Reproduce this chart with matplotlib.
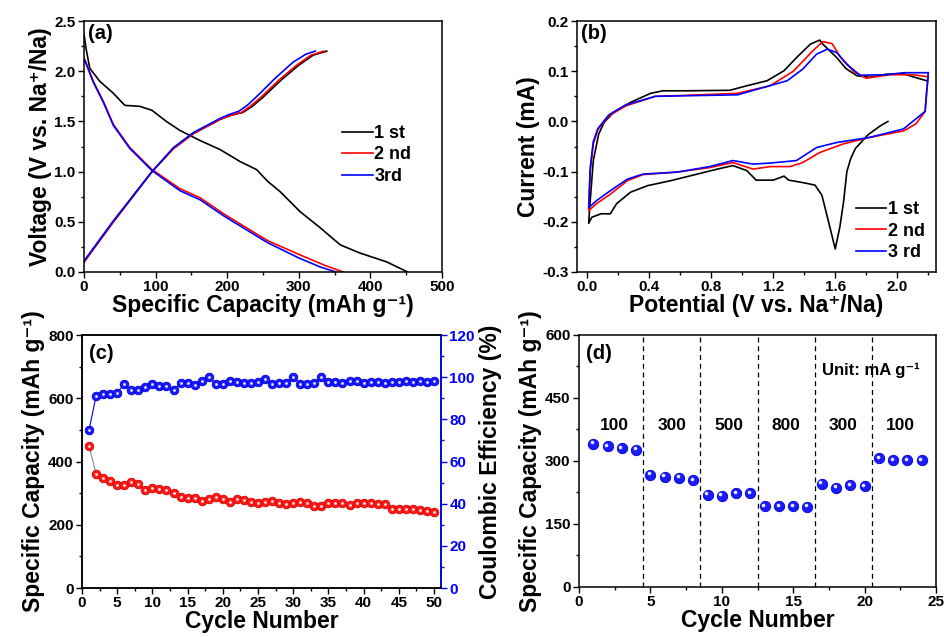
import matplotlib
matplotlib.use('Agg')
import matplotlib.pyplot as plt
import numpy as np
from matplotlib.ticker import MultipleLocator, FormatStrFormatter
from matplotlib.transforms import offset_copy

plt.rcParams['font.family'] = ['Liberation Sans', 'DejaVu Sans']
plt.rcParams['font.weight'] = 'bold'
plt.rcParams['axes.labelweight'] = 'bold'
plt.rcParams['axes.linewidth'] = 1.1

# ---- (a) charge/discharge profiles ----
cap_dis_1 = [0, 3, 8, 22, 41, 57, 78, 95, 115, 134, 162, 190, 218, 241, 257, 274, 302, 330, 358, 385, 423, 452]
volt_dis_1 = [2.37, 2.22, 2.03, 1.90, 1.78, 1.66, 1.65, 1.61, 1.50, 1.41, 1.31, 1.22, 1.10, 1.02, 0.90, 0.80, 0.60, 0.44, 0.27, 0.19, 0.10, 0.0]
cap_dis_2 = [0, 1.5, 13, 27, 41, 64, 95, 134, 162, 195, 227, 257, 302, 335, 362]
volt_dis_2 = [2.13, 2.11, 1.90, 1.70, 1.47, 1.24, 1.02, 0.83, 0.74, 0.58, 0.44, 0.31, 0.17, 0.07, 0.0]
cap_dis_3 = [0, 1.5, 13, 27, 41, 64, 95, 134, 162, 195, 227, 257, 300, 330, 352]
volt_dis_3 = [2.12, 2.10, 1.89, 1.69, 1.46, 1.23, 1.01, 0.81, 0.72, 0.56, 0.42, 0.29, 0.14, 0.05, 0.0]

cap_chg_1 = [0, 41, 95, 125, 153, 190, 205, 222, 235, 250, 275, 300, 320, 339]
volt_chg_1 = [0.10, 0.50, 1.00, 1.23, 1.38, 1.52, 1.56, 1.59, 1.65, 1.74, 1.91, 2.06, 2.16, 2.20]
cap_chg_2 = [0, 41, 95, 125, 153, 190, 205, 220, 232, 247, 272, 297, 317, 335]
volt_chg_2 = [0.10, 0.50, 1.00, 1.23, 1.38, 1.52, 1.56, 1.59, 1.65, 1.74, 1.91, 2.06, 2.16, 2.20]
cap_chg_3 = [0, 41, 95, 125, 153, 190, 203, 216, 228, 243, 267, 292, 310, 323]
volt_chg_3 = [0.11, 0.51, 1.00, 1.24, 1.39, 1.53, 1.57, 1.60, 1.66, 1.76, 1.93, 2.09, 2.17, 2.20]

# ---- (b) CV curves ----
cv_v_1 = [1.94, 1.89, 1.81, 1.73, 1.70, 1.675, 1.654, 1.63, 1.60, 1.557, 1.514, 1.47, 1.41, 1.30, 1.27, 1.20, 1.09, 1.03, 0.94,
          0.84, 0.71, 0.54, 0.39, 0.28, 0.19, 0.15, 0.09, 0.03, 0.01, 0.02, 0.04, 0.075, 0.11, 0.17, 0.28, 0.41, 0.49,
          0.64, 0.92, 1.03, 1.16, 1.27, 1.35, 1.44, 1.50, 1.52, 1.61, 1.67, 1.74, 1.82, 1.93, 2.04, 2.10, 2.19]
cv_i_1 = [0.0, -0.009, -0.027, -0.054, -0.074, -0.100, -0.160, -0.21, -0.254, -0.20, -0.147, -0.127, -0.123, -0.117,
          -0.109, -0.117, -0.117, -0.098, -0.088, -0.095, -0.105, -0.118, -0.128, -0.141, -0.164, -0.184, -0.184,
          -0.191, -0.203, -0.158, -0.078, -0.025, -0.002, 0.018, 0.038, 0.056, 0.061, 0.061, 0.062, 0.071, 0.081,
          0.101, 0.127, 0.154, 0.162, 0.154, 0.127, 0.105, 0.091, 0.088, 0.094, 0.095, 0.089, 0.081]
cv_v_2 = [2.20, 2.19, 2.18, 2.12, 2.04, 1.82, 1.65, 1.50, 1.39, 1.31, 1.18, 1.07, 0.94, 0.79, 0.58, 0.36, 0.26, 0.15,
          0.06, 0.01, 0.02, 0.04, 0.07, 0.14, 0.25, 0.44, 0.64, 0.97, 1.18, 1.33, 1.46, 1.52, 1.58, 1.63, 1.72, 1.80,
          1.95, 2.10, 2.20]
cv_i_2 = [0.088, 0.06, 0.02, -0.005, -0.019, -0.032, -0.045, -0.062, -0.082, -0.090, -0.090, -0.095, -0.082, -0.092,
          -0.101, -0.106, -0.118, -0.145, -0.164, -0.178, -0.10, -0.045, -0.016, 0.011, 0.031, 0.050, 0.052, 0.056,
          0.071, 0.10, 0.142, 0.159, 0.155, 0.13, 0.099, 0.086, 0.093, 0.093, 0.089]
cv_v_3 = [2.20, 2.19, 2.18, 2.04, 1.82, 1.61, 1.48, 1.35, 1.18, 1.07, 0.94, 0.79, 0.58, 0.36, 0.26, 0.15, 0.06, 0.01,
          0.02, 0.04, 0.07, 0.14, 0.25, 0.44, 0.97, 1.29, 1.39, 1.48, 1.55, 1.61, 1.67, 1.76, 1.93, 2.04, 2.20]
cv_i_3 = [0.097, 0.06, 0.02, -0.015, -0.032, -0.042, -0.052, -0.078, -0.083, -0.085, -0.078, -0.090, -0.101, -0.105,
          -0.115, -0.138, -0.158, -0.172, -0.093, -0.040, -0.014, 0.013, 0.033, 0.050, 0.053, 0.081, 0.104, 0.134,
          0.144, 0.137, 0.115, 0.092, 0.093, 0.097, 0.097]

# ---- (c) cycling ----
cycles_c = list(range(1, 51))
capacity_c = [450, 360, 347, 338, 326, 326, 336, 329, 310, 315, 313, 310, 302, 289, 286, 284, 275, 283, 287, 281,
              272, 281, 279, 272, 270, 272, 274, 270, 266, 268, 272, 268, 260, 260, 270, 270, 268, 264, 270, 270,
              268, 266, 266, 251, 249, 249, 249, 247, 245, 241]
efficiency_c = [75.0, 91.2, 92.3, 92.3, 92.7, 96.8, 93.9, 93.9, 95.2, 96.8, 96.0, 96.0, 93.9, 97.1, 97.4, 96.3, 98.4,
                100.2, 96.8, 96.8, 98.4, 97.9, 97.1, 97.1, 97.9, 99.0, 96.8, 97.1, 97.4, 99.9, 96.8, 96.8, 97.1,
                100.2, 97.9, 97.6, 97.1, 98.4, 98.4, 97.1, 97.6, 97.9, 97.1, 97.6, 97.9, 98.4, 97.6, 98.4, 97.6, 98.4]

# ---- (d) rate capability ----
cycles_d = list(range(1, 25))
capacity_d = [341, 335, 330, 327, 267, 263, 260, 255, 220, 217, 223, 223, 192, 192, 193, 191, 246, 236, 243, 240,
              306, 302, 302, 302]
rate_labels = ['100', '300', '500', '800', '300', '100']
rate_bounds = [4.5, 8.5, 12.5, 16.5, 20.5]

fig = plt.figure(figsize=(9.45, 6.37), dpi=100)
ax_a = fig.add_axes([0.0889, 0.573, 0.3788, 0.394])
ax_b = fig.add_axes([0.6106, 0.573, 0.3799, 0.394])
ax_c = fig.add_axes([0.0868, 0.0769, 0.3799, 0.397])
ax_d = fig.add_axes([0.6127, 0.0785, 0.3778, 0.3956])

tick_font = 11
label_font = 16.5
panel_font = 14.5
legend_font = 13


def style(ax):
    ax.tick_params(which='both', direction='out', top=False, right=False, labelsize=tick_font, width=1.0, pad=2)
    ax.tick_params(which='major', length=4)
    ax.tick_params(which='minor', length=2.5)
    for lab in ax.get_xticklabels() + ax.get_yticklabels():
        lab.set_fontweight('bold')


# (a)
lw = 1.2
ax_a.plot(cap_dis_1, volt_dis_1, color='black', lw=lw, label='1 st')
ax_a.plot(cap_chg_1, volt_chg_1, color='black', lw=lw)
ax_a.plot(cap_dis_2, volt_dis_2, color='red', lw=lw, label='2 nd')
ax_a.plot(cap_chg_2, volt_chg_2, color='red', lw=lw)
ax_a.plot(cap_dis_3, volt_dis_3, color='blue', lw=lw, label='3rd')
ax_a.plot(cap_chg_3, volt_chg_3, color='blue', lw=lw)
ax_a.set_xlim(0, 500)
ax_a.set_ylim(0, 2.5)
ax_a.xaxis.set_major_locator(MultipleLocator(100))
ax_a.xaxis.set_minor_locator(MultipleLocator(50))
ax_a.yaxis.set_major_locator(MultipleLocator(0.5))
ax_a.yaxis.set_minor_locator(MultipleLocator(0.25))
ax_a.yaxis.set_major_formatter(FormatStrFormatter('%.1f'))
ax_a.set_xlabel('Specific Capacity (mAh g\u207b\u00b9)', fontsize=label_font, labelpad=0)
ax_a.set_ylabel('Voltage (V vs. Na\u207a/Na)', fontsize=label_font, labelpad=2)
ax_a.text(0.01, 0.99, '(a)', transform=ax_a.transAxes, fontsize=panel_font, va='top', ha='left')
ax_a.legend(loc='upper left', bbox_to_anchor=(0.70, 0.615), frameon=False, fontsize=legend_font,
            handlelength=1.7, handletextpad=0.1, labelspacing=0.25, borderaxespad=0)
style(ax_a)

# (b)
ax_b.plot(cv_v_1, cv_i_1, color='black', lw=lw, label='1 st')
ax_b.plot(cv_v_2, cv_i_2, color='red', lw=lw, label='2 nd')
ax_b.plot(cv_v_3, cv_i_3, color='blue', lw=lw, label='3 rd')
ax_b.set_xlim(-0.065, 2.25)
ax_b.set_ylim(-0.3, 0.2)
ax_b.xaxis.set_major_locator(MultipleLocator(0.4))
ax_b.xaxis.set_minor_locator(MultipleLocator(0.2))
ax_b.yaxis.set_major_locator(MultipleLocator(0.1))
ax_b.yaxis.set_minor_locator(MultipleLocator(0.05))
ax_b.xaxis.set_major_formatter(FormatStrFormatter('%.1f'))
ax_b.yaxis.set_major_formatter(FormatStrFormatter('%.1f'))
ax_b.set_xlabel('Potential (V vs. Na\u207a/Na)', fontsize=label_font, labelpad=0)
ax_b.set_ylabel('Current (mA)', fontsize=label_font, labelpad=2)
ax_b.text(0.01, 0.99, '(b)', transform=ax_b.transAxes, fontsize=panel_font, va='top', ha='left')
ax_b.legend(loc='lower right', bbox_to_anchor=(1.0, 0.0), frameon=False, fontsize=legend_font,
            handlelength=1.7, handletextpad=0.1, labelspacing=0.25, borderaxespad=0.2)
style(ax_b)


def balls(ax, x, y, color, edge, size, dx=0.0, dy=0.0, hl=2.0):
    ax.plot(x, y, 'o', color=color, ms=size, mec=edge, mew=0.6, zorder=3)
    tr = offset_copy(ax.transData, fig=fig, x=dx, y=dy, units='points')
    ax.plot(x, y, 'o', color='white', ms=hl, mew=0, alpha=0.9, transform=tr, zorder=4)


# (c)
ax_c2 = ax_c.twinx()
ax_c.plot(cycles_c, capacity_c, color='#888888', lw=0.8, zorder=2)
balls(ax_c, cycles_c, capacity_c, '#ff1a1a', '#dd0000', 6.2)
ax_c2.plot(cycles_c, efficiency_c, color='blue', lw=0.8, zorder=2)
balls(ax_c2, cycles_c, efficiency_c, '#1a1aff', '#0000dd', 6.2)
ax_c.set_xlim(0, 51)
ax_c.set_ylim(0, 800)
ax_c2.set_ylim(0, 120)
ax_c.xaxis.set_major_locator(MultipleLocator(5))
ax_c.xaxis.set_minor_locator(MultipleLocator(2.5))
ax_c.yaxis.set_major_locator(MultipleLocator(200))
ax_c.yaxis.set_minor_locator(MultipleLocator(100))
ax_c2.yaxis.set_major_locator(MultipleLocator(20))
ax_c2.yaxis.set_minor_locator(MultipleLocator(10))
ax_c.set_xlabel('Cycle Number', fontsize=label_font, labelpad=0)
ax_c.set_ylabel('Specific Capacity (mAh g\u207b\u00b9)', fontsize=label_font, labelpad=2)
ax_c2.set_ylabel('Coulombic Efficiency (%)', fontsize=label_font, labelpad=3)
ax_c.text(0.02, 0.965, '(c)', transform=ax_c.transAxes, fontsize=panel_font, va='top', ha='left')
style(ax_c)
ax_c2.tick_params(which='both', direction='out', right=True, colors='blue', labelsize=tick_font, width=1.0, pad=2)
ax_c2.tick_params(which='major', length=4)
ax_c2.tick_params(which='minor', length=2.5)
for lab in ax_c2.get_yticklabels():
    lab.set_fontweight('bold')
ax_c2.spines['right'].set_color('blue')

# (d)
for b in rate_bounds:
    ax_d.axvline(b, color='black', ls=(0, (4, 3)), lw=0.9)
balls(ax_d, cycles_d, capacity_d, '#1a1aff', '#0000cc', 7.5, dx=-1.0, dy=1.0, hl=2.6)
edges = [0.5] + rate_bounds + [24.5]
for i, lab in enumerate(rate_labels):
    ax_d.text((edges[i] + edges[i + 1]) / 2, 385, lab, ha='center', va='center', fontsize=12.5)
ax_d.text(17.05, 515, 'Unit: mA g\u207b\u00b9', ha='left', va='center', fontsize=12)
ax_d.set_xlim(0, 25)
ax_d.set_ylim(0, 600)
ax_d.xaxis.set_major_locator(MultipleLocator(5))
ax_d.xaxis.set_minor_locator(MultipleLocator(2.5))
ax_d.yaxis.set_major_locator(MultipleLocator(150))
ax_d.yaxis.set_minor_locator(MultipleLocator(75))
ax_d.set_xlabel('Cycle Number', fontsize=label_font, labelpad=0)
ax_d.set_ylabel('Specific Capacity (mAh g\u207b\u00b9)', fontsize=label_font, labelpad=2)
ax_d.text(0.02, 0.965, '(d)', transform=ax_d.transAxes, fontsize=panel_font, va='top', ha='left')
style(ax_d)

fig.savefig('out.png', dpi=100)
